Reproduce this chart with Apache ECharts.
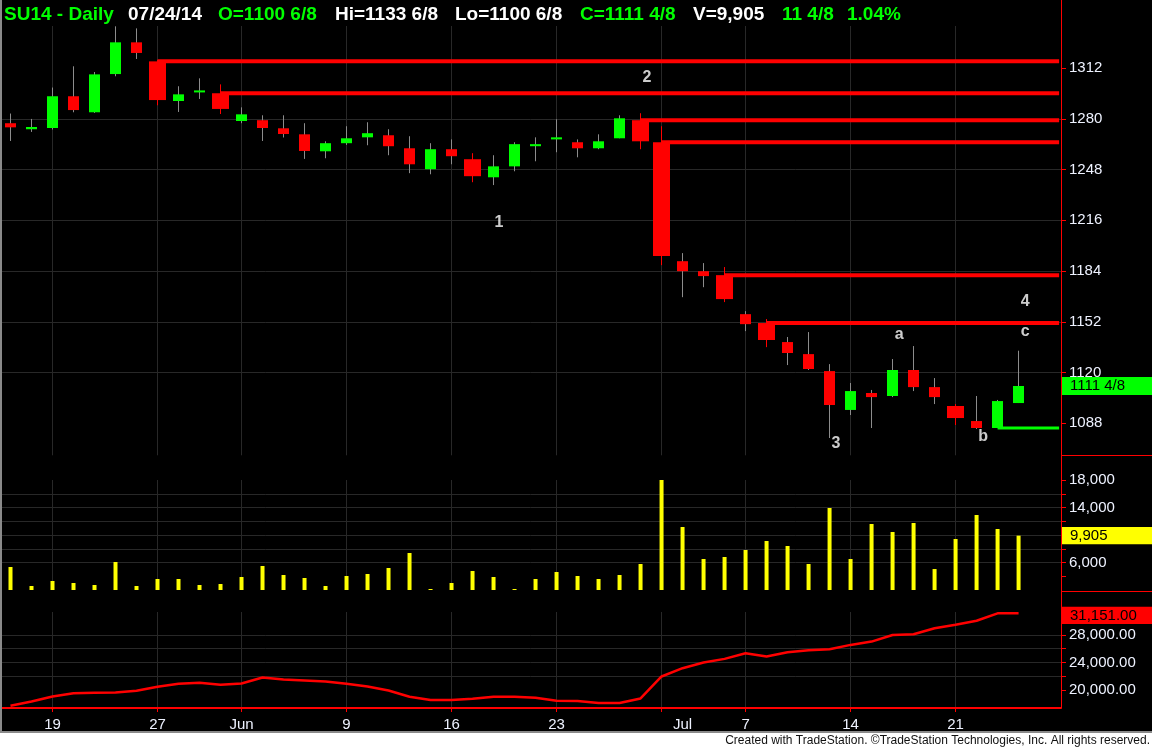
<!DOCTYPE html>
<html>
<head>
<meta charset="utf-8">
<script src="https://cdn.jsdelivr.net/npm/echarts@6/dist/echarts.min.js"></script>
<style>
html,body{margin:0;padding:0;background:#000;}
#chart{width:1152px;height:748px;}
</style>
</head>
<body>
<div id="chart"></div>
<script>
// ---------------- DATA ----------------
const dates = ['2014-05-15','2014-05-16','2014-05-19','2014-05-20','2014-05-21','2014-05-22','2014-05-23','2014-05-27','2014-05-28','2014-05-29','2014-05-30',
  '2014-06-02','2014-06-03','2014-06-04','2014-06-05','2014-06-06','2014-06-09','2014-06-10','2014-06-11','2014-06-12','2014-06-13',
  '2014-06-16','2014-06-17','2014-06-18','2014-06-19','2014-06-20','2014-06-23','2014-06-24','2014-06-25','2014-06-26','2014-06-27','2014-06-30',
  '2014-07-01','2014-07-02','2014-07-03','2014-07-07','2014-07-08','2014-07-09','2014-07-10','2014-07-11','2014-07-14','2014-07-15','2014-07-16',
  '2014-07-17','2014-07-18','2014-07-21','2014-07-22','2014-07-23','2014-07-24'];
const openP  = [1277.2,1273.4,1274.2,1294.2,1284.1,1308.2,1328.2,1316.2,1291.2,1297.0,1296.1,1278.6,1279.1,1274.0,1270.2,1259.5,1264.6,1268.3,1269.6,1261.4,1248.2,1260.8,1254.5,1243.1,1250.0,1262.7,1267.0,1265.2,1261.4,1267.7,1279.1,1265.2,1190.2,1183.9,1181.4,1156.8,1151.2,1139.2,1131.6,1120.9,1096.4,1107.1,1105.2,1121.6,1110.8,1098.9,1089.4,1085.0,1100.75];
const highP  = [1283.3,1279.9,1299.7,1313.1,1309.5,1338.3,1337.0,1317.0,1300.5,1305.5,1301.7,1287.2,1282.2,1282.2,1277.2,1265.8,1275.3,1277.8,1273.4,1269.0,1264.6,1267.0,1258.3,1257.0,1265.2,1268.3,1279.7,1267.0,1270.2,1282.2,1283.5,1275.3,1195.3,1189.0,1186.5,1158.7,1153.7,1142.4,1145.5,1125.3,1113.4,1109.0,1128.5,1136.7,1116.5,1100.1,1105.2,1102.7,1133.75];
const lowP   = [1266.0,1271.7,1273.2,1284.1,1283.7,1306.8,1317.7,1288.5,1284.3,1292.5,1283.0,1277.2,1266.0,1268.2,1254.7,1255.1,1263.5,1263.3,1257.0,1245.7,1245.0,1251.3,1240.0,1238.2,1246.9,1253.2,1258.9,1255.7,1260.8,1267.7,1260.8,1187.7,1167.5,1173.8,1164.4,1146.1,1136.0,1124.7,1121.6,1078.7,1093.2,1085.0,1104.5,1108.3,1100.1,1086.9,1084.4,1085.0,1100.75];
const closeP = [1274.6,1274.8,1294.2,1285.5,1308.0,1328.2,1321.5,1291.8,1295.4,1297.5,1286.2,1282.8,1274.2,1270.4,1259.7,1264.6,1267.7,1270.9,1262.7,1251.3,1260.8,1256.4,1243.8,1250.0,1264.0,1264.0,1268.3,1261.4,1265.8,1280.3,1265.8,1193.4,1183.9,1180.8,1166.3,1150.5,1140.5,1132.3,1122.2,1099.5,1108.3,1104.5,1121.6,1110.8,1104.5,1091.3,1085.0,1102.0,1111.5];
const wideBars = [7,10,22,30,31,34,36,45];          // painted (highlighted) bars
const redLineBars = [7,10,30,31,34,36];             // resistance lines start at these bars' opens
const greenLineBars = [47];                         // support line starts at this bar's open
const volume = [5345,2580,3310,3020,2730,6070,2580,3600,3600,2730,2870,3890,5490,4180,3750,2580,4040,4330,5200,7380,2150,3020,4760,3890,2150,3600,4620,4040,3600,4180,5780,18000,11160,6510,6800,7820,9130,8400,5780,13930,6510,11600,10440,11750,5050,9420,12910,10870,9905];
const indicator = [17670,18300,19030,19500,19560,19600,19850,20440,20870,21020,20730,20920,21790,21500,21360,21210,20870,20480,19900,18980,18500,18500,18690,18980,18980,18840,18400,18350,18060,18060,18740,21940,23150,23970,24510,25330,24850,25480,25770,25920,26550,27030,28000,28100,28970,29500,30080,31151,31151];
const priceTicks = [1088,1120,1152,1184,1216,1248,1280,1312];
const volTicks = [4000,6000,8000,10000,12000,14000,16000,18000];
const volLabels = [6000,14000,18000];
const indTicks = [20000,22000,24000,26000,28000,30000];
const indLabels = [20000,24000,28000];
const xGridIdx = [2,7,11,16,21,26,31,35,40,45];
const xLabelIdx = [2,7,11,16,21,26,32,35,40,45];
const xLabelText = ['19','27','Jun','9','16','23','Jul','7','14','21'];
const waveLabels = [['1',23.26,1214.8],['2',30.31,1306.1],['3',39.31,1074.9],['4',48.31,1165.0],['a',42.31,1144.2],['b',46.31,1079.3],['c',48.31,1146.1]];
const headerTexts = ['SU14 - Daily','07/24/14','O=1100 6/8','Hi=1133 6/8','Lo=1100 6/8','C=1111 4/8','V=9,905','11 4/8','1.04%'];
const headerUp = [true,false,true,false,false,true,false,true,true];
const priceTag = '1111 4/8';
const volTag = '9,905';
const indTag = '31,151.00';
const footer = 'Created with TradeStation. \u00A9TradeStation Technologies, Inc. All rights reserved.';

// ---------------- STYLE / LAYOUT ----------------
const FONT = '"Liberation Sans", Arial, sans-serif';
const GREEN = '#00ff00', RED = '#ff0000', YEL = '#ffff00';
const LBL = '#eef2ff';
const GRIDC = '#282828';
const X_MIN = -0.5, X_MAX = 50.02, LINE_END = 49.93;
const headerX = [4,128,218,335,455,580,693,782,847];

const chart = echarts.init(document.getElementById('chart'), null, {renderer:'canvas'});

const candleData = dates.map((d,i) => [i, openP[i], closeP[i], lowP[i], highP[i], wideBars.indexOf(i) >= 0 ? 1 : 0]);

function xAxisBase(gi, showLabels){
  return {
    type:'value', gridIndex: gi, min: X_MIN, max: X_MAX,
    axisLine: showLabels ? {show:true, onZero:false, lineStyle:{color:RED, width:2}} : {show:false, onZero:false},
    axisTick: {show: showLabels, customValues: xGridIdx, length:4, lineStyle:{color:RED}},
    axisLabel: showLabels ? {show:true, customValues: xLabelIdx, color:LBL, fontSize:15, fontFamily:FONT, margin:9,
        formatter: v => { const k = xLabelIdx.indexOf(Math.round(v)); return k >= 0 ? xLabelText[k] : ''; }} : {show:false},
    splitLine: {show:true, customValues: xGridIdx, lineStyle:{color:GRIDC, width:1}}
  };
}

function yAxisBase(gi, mn, mx, ticks, labels, fmt){
  return {
    type:'value', gridIndex: gi, position:'right', min: mn, max: mx, scale:true,
    axisLine:{show:false, onZero:false},
    axisTick:{show:true, customValues: ticks, length:5, lineStyle:{color:RED}},
    axisLabel:{show:true, customValues: labels, color:LBL, fontSize:15, fontFamily:FONT, margin:8, formatter: fmt},
    splitLine:{show:true, customValues: ticks, showMinLine:false, showMaxLine:false, lineStyle:{color:GRIDC, width:1}}
  };
}

const lineSeries = [];
redLineBars.forEach(b => {
  lineSeries.push({type:'line', xAxisIndex:0, yAxisIndex:0, symbol:'none', silent:true, z:3,
    data:[[b, openP[b]],[LINE_END, openP[b]]], lineStyle:{color:RED, width:4}});
});
greenLineBars.forEach(b => {
  lineSeries.push({type:'line', xAxisIndex:0, yAxisIndex:0, symbol:'none', silent:true, z:3,
    data:[[b, openP[b]],[LINE_END, openP[b]]], lineStyle:{color:GREEN, width:3}});
});

const option = {
  backgroundColor:'#000',
  animation:false,
  grid:[
    {left:0, right:91, top:26, height:429.3},
    {left:0, right:91, top:480, height:110},
    {left:0, right:91, top:612, height:96}
  ],
  xAxis:[xAxisBase(0,false), xAxisBase(1,false), xAxisBase(2,true)],
  yAxis:[
    yAxisBase(0, 1067.8, 1338.5, priceTicks, priceTicks, v => String(v)),
    yAxisBase(1, 2000, 18000, volTicks, volLabels, v => Number(v).toLocaleString('en-US')),
    yAxisBase(2, 17340, 31350, indTicks, indLabels, v => Number(v).toLocaleString('en-US',{minimumFractionDigits:2, maximumFractionDigits:2}))
  ],
  series:[
    ...lineSeries,
    {
      type:'custom', xAxisIndex:0, yAxisIndex:0, z:5, clip:false,
      data: candleData,
      renderItem: function(params, api){
        const i = api.value(0), o = api.value(1), c = api.value(2), l = api.value(3), h = api.value(4), wide = api.value(5);
        const pO = api.coord([i,o]), pC = api.coord([i,c]), pL = api.coord([i,l]), pH = api.coord([i,h]);
        const w = wide ? 17 : 11;
        const up = c >= o;
        const col = up ? GREEN : RED;
        const wick = wide ? RED : '#8c8c8c';
        let top = Math.min(pO[1], pC[1]);
        let hgt = Math.abs(pO[1] - pC[1]);
        if (hgt < 2) { top = (pO[1] + pC[1]) / 2 - 1; hgt = 2; }
        const cx = Math.round(pO[0] - 0.5) + 0.5;
        return {type:'group', children:[
          {type:'line', shape:{x1:cx, y1:pH[1], x2:cx, y2:pL[1]}, style:{stroke:wick, lineWidth:1}},
          {type:'rect', shape:{x: cx - w/2, y: top, width: w, height: hgt}, style:{fill: col}}
        ]};
      }
    },
    {
      type:'scatter', xAxisIndex:0, yAxisIndex:0, symbolSize:1, itemStyle:{color:'rgba(0,0,0,0)'}, z:6,
      data: waveLabels.map(w => ({value:[w[1], w[2]], name:w[0]})),
      label:{show:true, position:'inside', formatter: p => p.name, color:'#ffffff', fontSize:16, fontWeight:'bold', fontFamily:FONT}
    },
    {
      type:'bar', xAxisIndex:1, yAxisIndex:1, barWidth:4, clip:true,
      data: volume.map((v,i) => [i, v]), itemStyle:{color:YEL}
    },
    {
      type:'line', xAxisIndex:2, yAxisIndex:2, symbol:'none', clip:false,
      data: indicator.map((v,i) => [i, v]), lineStyle:{color:RED, width:2.5}
    }
  ]
};
chart.setOption(option);

// ---------------- decorations tied to axis scales ----------------
const yPrice = chart.convertToPixel({yAxisIndex:0}, closeP[closeP.length-1]);
const yVol = chart.convertToPixel({yAxisIndex:1}, volume[volume.length-1]);
const yInd = chart.convertToPixel({yAxisIndex:2}, indicator[indicator.length-1]) + 2;

const graphics = [
  {type:'rect', shape:{x:0,y:0,width:2,height:732}, style:{fill:'#8a8a8a'}, z:100},
  {type:'rect', shape:{x:0,y:731,width:1152,height:2}, style:{fill:'#8a8a8a'}, z:100},
  {type:'rect', shape:{x:0,y:733,width:1152,height:15}, style:{fill:'#ffffff'}, z:100},
  {type:'text', x:1150, y:741, style:{text:footer, fill:'#101010', font:'12px '+FONT, textAlign:'right', textVerticalAlign:'middle'}, z:101},
  {type:'line', shape:{x1:1061.5,y1:0,x2:1061.5,y2:708}, style:{stroke:RED, lineWidth:1}, z:50},
  {type:'line', shape:{x1:1061,y1:455.5,x2:1152,y2:455.5}, style:{stroke:RED, lineWidth:1}, z:50},
  {type:'line', shape:{x1:1061,y1:591.5,x2:1152,y2:591.5}, style:{stroke:RED, lineWidth:1}, z:50},
  {type:'rect', shape:{x:1062,y:yPrice-9,width:90,height:18}, style:{fill:GREEN}, z:60},
  {type:'text', x:1070, y:yPrice, style:{text:priceTag, fill:'#000', font:'15px '+FONT, textVerticalAlign:'middle'}, z:61},
  {type:'rect', shape:{x:1062,y:yVol-8.7,width:90,height:17.4}, style:{fill:YEL}, z:60},
  {type:'text', x:1070, y:yVol, style:{text:volTag, fill:'#000', font:'15px '+FONT, textVerticalAlign:'middle'}, z:61},
  {type:'rect', shape:{x:1062,y:yInd-8.7,width:90,height:17.4}, style:{fill:RED}, z:60},
  {type:'text', x:1070, y:yInd, style:{text:indTag, fill:'#000', font:'15px '+FONT, textVerticalAlign:'middle'}, z:61}
];
headerTexts.forEach((t,k) => {
  graphics.push({type:'text', x:headerX[k], y:15, style:{text:t, fill: headerUp[k] ? GREEN : '#ffffff', font:'bold 19px '+FONT, textVerticalAlign:'middle'}, z:70});
});
chart.setOption({graphic: graphics});
</script>
</body>
</html>
